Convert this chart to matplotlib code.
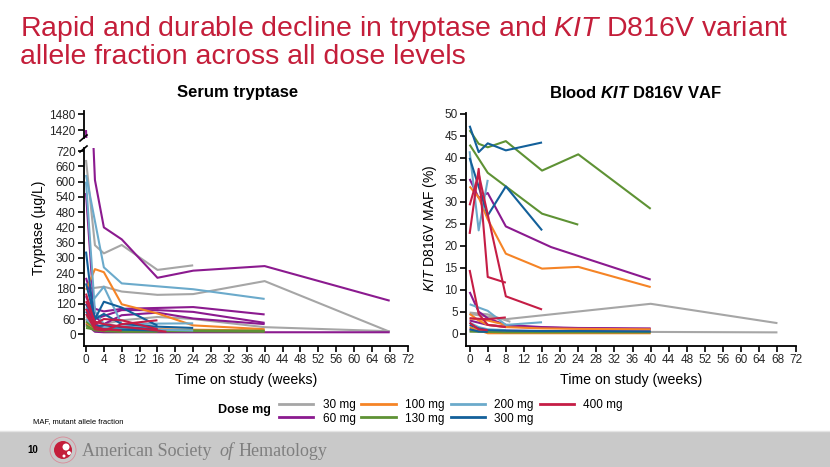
import matplotlib
matplotlib.use("Agg")
import matplotlib.pyplot as plt
from matplotlib.lines import Line2D
from matplotlib.patches import Rectangle, Ellipse

plt.rcParams['font.family'] = ['Liberation Sans', 'DejaVu Sans']
plt.rcParams['mathtext.fontset'] = 'custom'
plt.rcParams['mathtext.rm'] = 'Liberation Sans'
plt.rcParams['mathtext.it'] = 'Liberation Sans:italic'
plt.rcParams['mathtext.bf'] = 'Liberation Sans:bold'
plt.rcParams['mathtext.bfit'] = 'Liberation Sans:italic:bold'

W, H = 830, 467

DOSES = ['30 mg', '60 mg', '100 mg', '130 mg', '200 mg', '300 mg', '400 mg']
COLORS = ['#A6A6A6', '#8B1A8F', '#F58426', '#5E9234', '#6BAACB', '#13609A', '#C51D45']
WEEK_TICKS = list(range(0, 73, 4))
TRYP_TICKS = list(range(0, 721, 60))
TRYP_TICKS_HIGH = [1420, 1480]
VAF_TICKS = list(range(0, 51, 5))

# serum tryptase (ug/L): (weeks, values) per patient
TRYP_30 = [
    ([0, 2, 4, 8, 16, 24], [685, 350, 318, 351, 253, 271]),
    ([0, 4, 8, 16, 24, 40, 68], [178, 187, 168, 155, 158, 209, 10]),
    ([0, 2, 4, 8, 16, 24, 40, 68], [70, 45, 40, 55, 68, 60, 28, 12]),
    ([0, 2, 4, 8], [55, 25, 22, 20]),
]
TRYP_60 = [
    ([0, 2, 4, 8, 16, 24, 40, 68], [1420, 606, 420, 373, 222, 250, 268, 132]),
    ([0, 2, 4, 8, 16, 24, 40], [555, 40, 25, 20, 15, 12, 10]),
    ([0, 2, 4, 8, 24, 40], [222, 100, 90, 100, 107, 78]),
    ([0, 2, 4, 8, 16, 24, 40], [150, 60, 72, 95, 95, 88, 45]),
    ([0, 4, 8, 16, 24, 40], [100, 40, 75, 85, 62, 40]),
    ([0, 2, 4, 8, 16, 24, 40, 68], [40, 10, 8, 8, 8, 8, 8, 8]),
    ([0, 2, 4, 8, 16], [120, 30, 20, 15, 12]),
]
TRYP_100 = [
    ([0, 2, 4, 8, 16, 24, 40], [175, 256, 244, 118, 82, 35, 20]),
    ([0, 2, 4, 8, 16, 24, 40], [60, 30, 25, 22, 20, 18, 15]),
    ([0, 2, 4, 8], [45, 20, 15, 12]),
]
TRYP_130 = [
    ([0, 2, 4, 8, 16, 24, 40], [50, 25, 20, 18, 16, 15, 14]),
    ([0, 2, 4, 8, 16, 24, 40], [35, 15, 14, 12, 12, 12, 10]),
    ([0, 4, 8, 16], [25, 12, 10, 10]),
]
TRYP_200 = [
    ([0, 4, 8, 24, 40], [626, 263, 200, 177, 139]),
    ([0, 2, 4, 8, 16], [600, 90, 40, 30, 25]),
    ([0, 4, 8, 16, 24], [100, 187, 40, 42, 43]),
    ([0, 2, 4, 8, 16, 24], [60, 30, 25, 20, 18, 15]),
]
TRYP_300 = [
    ([0, 2, 4, 8, 16], [325, 30, 20, 18, 15]),
    ([0, 2, 4, 8, 16], [200, 60, 128, 105, 34]),
    ([0, 2, 4, 8, 16, 24], [120, 60, 80, 40, 30, 25]),
    ([0, 2, 4, 8, 16], [90, 30, 35, 28, 20]),
]
TRYP_400 = [
    ([0, 2, 4, 8, 16], [160, 40, 60, 55, 20]),
    ([0, 2, 4, 8, 16, 18], [130, 50, 40, 30, 15, 10]),
    ([0, 2, 4, 8, 16], [80, 20, 15, 40, 55]),
    ([0, 2, 4, 8], [100, 30, 20, 15]),
]

# blood KIT D816V VAF (%)
VAF_30 = [
    ([0, 8, 40, 68], [4.5, 3.3, 6.8, 2.4]),
    ([0, 4, 9], [4.8, 4.4, 2.7]),
    ([0, 4, 8, 16, 24, 40, 68], [0.5, 0.4, 0.4, 0.4, 0.4, 0.4, 0.3]),
]
VAF_60 = [
    ([0, 2, 4, 8, 18, 40], [35.2, 30.9, 32.0, 24.4, 19.7, 12.3]),
    ([0, 2, 4, 8, 16, 24, 40], [9.5, 5.0, 3.5, 2.0, 1.5, 1.3, 1.2]),
    ([0, 2, 4, 8, 16, 24, 40], [3.0, 2.5, 2.0, 1.6, 1.4, 1.2, 1.0]),
    ([0, 2, 4, 8, 16, 40], [1.0, 0.8, 0.7, 0.7, 0.6, 0.5]),
]
VAF_100 = [
    ([0, 2, 4, 8, 16, 24, 40], [33.5, 31.0, 26.0, 18.2, 14.8, 15.2, 10.6]),
    ([0, 2, 4, 8, 16, 24, 40], [4.5, 3.0, 2.0, 1.5, 1.2, 1.1, 1.0]),
    ([0, 2, 4, 8, 16, 40], [1.5, 0.8, 0.1, 0.1, 0.1, 0.1]),
    ([0, 4, 8], [3.5, 3.0, 2.0]),
]
VAF_130 = [
    ([0, 2, 4, 8, 16, 24, 40], [46.3, 43.2, 42.4, 43.8, 37.1, 40.8, 28.4]),
    ([0, 4, 8, 16, 24], [43.0, 36.6, 33.5, 27.3, 24.8]),
    ([0, 4, 8, 16, 40], [0.5, 0.4, 0.3, 0.3, 0.3]),
]
VAF_200 = [
    ([0, 2, 4], [41.5, 23.5, 35.0]),
    ([0, 4, 8, 16], [6.7, 5.2, 2.0, 2.6]),
    ([0, 2, 4, 8], [2.5, 1.5, 1.0, 0.8]),
]
VAF_300 = [
    ([0, 2, 4, 8, 16], [47.3, 41.3, 43.3, 41.7, 43.5]),
    ([0, 4, 8, 16], [40.0, 26.9, 33.5, 23.5]),
    ([0, 2, 4, 8, 16, 24, 40], [2.0, 1.2, 0.8, 0.7, 0.6, 0.6, 0.5]),
    ([0, 2, 4], [1.0, 0.5, 0.4]),
]
VAF_400 = [
    ([0, 2, 4, 8], [22.7, 37.5, 12.9, 11.6]),
    ([0, 2, 8, 16], [29.2, 36.4, 8.5, 5.5]),
    ([0, 2, 4, 8], [14.5, 4.5, 2.0, 1.5]),
    ([0, 4, 8], [3.5, 3.3, 3.7]),
    ([0, 2, 4], [2.5, 1.0, 0.8]),
]

TRYP_ALL = [TRYP_30, TRYP_60, TRYP_100, TRYP_130, TRYP_200, TRYP_300, TRYP_400]
VAF_ALL = [VAF_30, VAF_60, VAF_100, VAF_130, VAF_200, VAF_300, VAF_400]


def fx(px):
    return px / W


def fy(py):
    return 1 - py / H


def box(x0, y0, x1, y1):
    # pixel box (top-left origin) -> figure rect
    return [fx(x0), fy(y1), (x1 - x0) / W, (y1 - y0) / H]


def style_axis(ax):
    ax.spines['top'].set_visible(False)
    ax.spines['right'].set_visible(False)
    for s in ax.spines.values():
        s.set_linewidth(1.3)
    ax.tick_params(direction='out', length=4, width=1.2, labelsize=8.5,
                   labelcolor='#262626', pad=2)


def draw(ax, groups):
    for series, color in zip(groups, COLORS):
        for weeks, vals in series:
            ax.plot(weeks, vals, color=color, lw=1.5, solid_capstyle='butt')


fig = plt.figure(figsize=(W / 100, H / 100), dpi=100)

# main title
RED = '#C41E3A'
fig.text(fx(20), fy(36), r'Rapid and durable decline in tryptase and $\mathit{KIT}$ D816V variant',
         fontsize=20.5, color=RED, ha='left', va='baseline')
fig.text(fx(20), fy(64), 'allele fraction across all dose levels',
         fontsize=20.5, color=RED, ha='left', va='baseline')

# left panel: serum tryptase with broken axis
ax_l = fig.add_axes(box(84, 148, 408, 346))
ax_u = fig.add_axes(box(84, 111, 408, 138))
draw(ax_l, TRYP_ALL)
draw(ax_u, TRYP_ALL)
for ax in (ax_l, ax_u):
    style_axis(ax)
    ax.set_xlim(-0.45, 72.1)
ax_l.set_ylim(-46, 732)
ax_l.set_yticks(TRYP_TICKS)
ax_l.set_xticks(WEEK_TICKS)
ax_u.set_ylim(1390, 1492)
ax_u.set_yticks(TRYP_TICKS_HIGH)
ax_u.spines['bottom'].set_visible(False)
ax_u.set_xticks([])

for (x0, y0, x1, y1) in [(80, 152, 87, 146), (80, 141, 87, 135)]:
    fig.add_artist(Line2D([fx(x0), fx(x1)], [fy(y0), fy(y1)], color='black', lw=1.2))

fig.text(fx(238), fy(93), 'Serum tryptase', fontsize=12, weight='bold', ha='center', va='center')
fig.text(fx(39), fy(228), 'Tryptase (µg/L)', fontsize=10, rotation=90, ha='center', va='center')
fig.text(fx(246), fy(380), 'Time on study (weeks)', fontsize=10.2, ha='center', va='center')

# right panel: VAF
ax_r = fig.add_axes(box(466, 113, 796, 346))
draw(ax_r, VAF_ALL)
style_axis(ax_r)
ax_r.set_xlim(-0.8, 72.1)
ax_r.set_ylim(-2.8, 50.2)
ax_r.set_yticks(VAF_TICKS)
ax_r.set_xticks(WEEK_TICKS)

fig.text(fx(636), fy(93), r'Blood $\mathbfit{KIT}$ D816V VAF', fontsize=12, weight='bold',
         ha='center', va='center')
fig.text(fx(430), fy(228), r'$\mathit{KIT}$ D816V MAF (%)', fontsize=10, rotation=90,
         ha='center', va='center')
fig.text(fx(631), fy(380), 'Time on study (weeks)', fontsize=10.2, ha='center', va='center')

# legend
handles = [Line2D([], [], color=c, lw=2) for c in COLORS]
fig.legend(handles, DOSES, ncol=4, loc='center left', bbox_to_anchor=(fx(279), fy(412)),
           frameon=False, fontsize=8.5, handlelength=2.9, handletextpad=0.8,
           columnspacing=0.5, labelspacing=0.1, borderpad=0, borderaxespad=0)
fig.text(fx(218), fy(410), 'Dose mg', fontsize=9, weight='bold', ha='left', va='center')
fig.text(fx(33), fy(422), 'MAF, mutant allele fraction', fontsize=5.5, ha='left', va='center')

# footer band
fig.add_artist(Rectangle((0, 0), 1, 36 / H, transform=fig.transFigure,
                         facecolor='#C9C9C9', edgecolor='none', zorder=0))
fig.add_artist(Line2D([0, 1], [36 / H, 36 / H], color='#E4E4E4', lw=1))
fig.text(fx(33), fy(450), '10', fontsize=7, weight='bold', ha='center', va='center')
fig.add_artist(Ellipse((fx(63), fy(450)), 26 / W, 26 / H, transform=fig.transFigure,
                       facecolor='none', edgecolor='#D98A98', lw=0.6))
fig.add_artist(Ellipse((fx(63), fy(450)), 18 / W, 18 / H, transform=fig.transFigure,
                       facecolor=RED, edgecolor='none'))
for (cx, cy, r) in [(66, 447, 3.5), (69, 453, 2), (64, 456, 1.5)]:
    fig.add_artist(Ellipse((fx(cx), fy(cy)), 2 * r / W, 2 * r / H, transform=fig.transFigure,
                           facecolor='white', edgecolor='none'))
GREY = '#7F7F7F'
fig.text(fx(82), fy(451), 'American Society', fontsize=13, family='Liberation Serif',
         color=GREY, ha='left', va='center')
fig.text(fx(219), fy(451), 'of', fontsize=13, family='Liberation Serif', style='italic',
         color=GREY, ha='left', va='center')
fig.text(fx(239), fy(451), 'Hematology', fontsize=13, family='Liberation Serif',
         color=GREY, ha='left', va='center')

fig.savefig('out.png', dpi=100)
